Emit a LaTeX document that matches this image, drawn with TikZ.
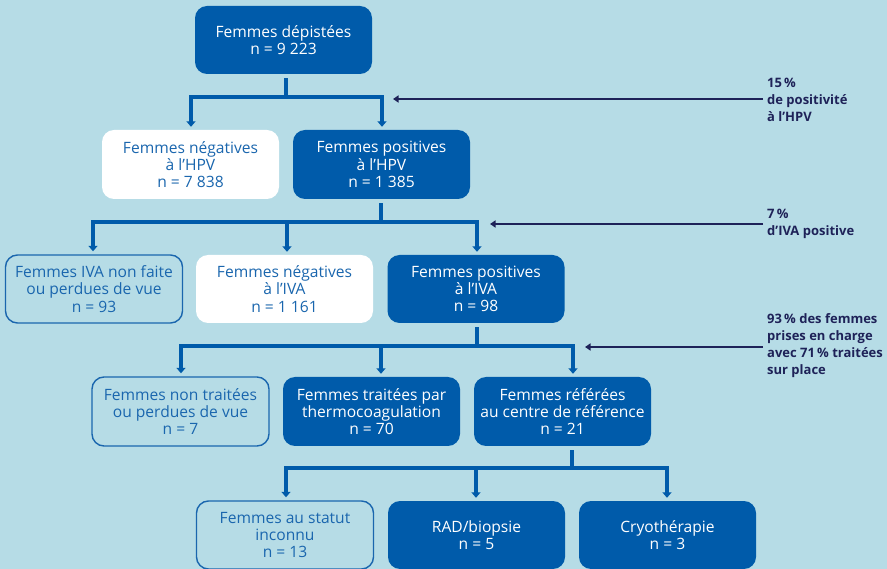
\documentclass[tikz,border=0pt]{standalone}
\usepackage{fontspec}
\setmainfont{Open Sans}
\usetikzlibrary{arrows.meta,calc}
\definecolor{bg}{HTML}{B6DCE6}
\definecolor{dblue}{HTML}{005BAA}
\definecolor{tblue}{HTML}{1A66AE}
\definecolor{navy}{HTML}{1E2258}
\tikzset{
  base/.style={rounded corners=12pt, minimum width=177pt, minimum height=68pt, align=center, inner sep=0pt, font=\fontsize{15.6}{17.2}\selectfont},
  darkbox/.style={base, fill=dblue, text=white},
  whitebox/.style={base, fill=white, text=tblue},
  outbox/.style={base, draw=tblue, line width=1.4pt, text=tblue},
  conn/.style={draw=dblue, line width=3.2pt},
  arr/.style={conn, -{Triangle[width=9pt,length=5.5pt]}},
  note/.style={anchor=west, align=left, text=navy, inner sep=0pt, font=\bfseries\fontsize{13}{17}\selectfont},
  notearr/.style={draw=navy, line width=2.2pt, -{Triangle[width=7pt,length=5.5pt]}}
}
\begin{document}
\begin{tikzpicture}[x=1pt,y=-1pt]
\fill[bg] (0,0) rectangle (887,569);
\useasboundingbox (0,0) rectangle (887,569);

% nodes
\node[darkbox] (top) at (283.5,40) {Femmes dépistées\\n = 9~223};
\node[whitebox, minimum height=69pt] (hpvneg) at (190.5,164.5) {Femmes négatives\\à l’HPV\\n = 7~838};
\node[darkbox, minimum height=69pt] (hpvpos) at (381.5,164.5) {Femmes positives\\à l’HPV\\n = 1~385};

\node[outbox] (ivanf) at (94,289) {Femmes IVA non faite\\ou perdues de vue\\n = 93};
\node[whitebox] (ivaneg) at (284.5,289) {Femmes négatives\\à l’IVA\\n = 1~161};
\node[darkbox] (ivapos) at (476,289) {Femmes positives\\à l’IVA\\n = 98};

\node[outbox, minimum height=69pt] (nontr) at (180.5,411.5) {Femmes non traitées\\ou perdues de vue\\n = 7};
\node[darkbox, minimum height=69pt] (thermo) at (371.5,411.5) {Femmes traitées par\\thermocoagulation\\n = 70};
\node[darkbox, minimum height=69pt] (ref) at (562.5,411.5) {Femmes référées\\au centre de référence\\n = 21};

\node[outbox] (inc) at (285,535) {Femmes au statut\\inconnu\\n = 13};
\node[darkbox] (rad) at (476.5,535) {RAD/biopsie\\n = 5};
\node[darkbox] (cryo) at (667.5,535) {Cryothérapie\\n = 3};

% connectors level 1
\coordinate (b1) at (286,97);
\draw[conn] ($(top.south)+(2.5,4)$) -- (b1);
\draw[arr] (b1) -| ($(hpvneg.north)+(0.5,-3)$);
\draw[arr] (b1) -| ($(hpvpos.north)+(0.5,-3)$);

% level 2
\coordinate (b2) at (381,222);
\draw[conn] ($(hpvpos.south)+(-0.5,4)$) -- (b2);
\draw[arr] (b2) -| ($(ivanf.north)+(-1,-3)$);
\draw[arr] (b2) -| ($(ivaneg.north)+(2.5,-3)$);
\draw[arr] (b2) -| ($(ivapos.north)+(1,-3)$);

% level 3
\coordinate (b3) at (477,346);
\draw[conn] ($(ivapos.south)+(1,4)$) -- (b3);
\draw[arr] (b3) -| ($(nontr.north)+(0.5,-3)$);
\draw[arr] (b3) -| ($(thermo.north)+(9.5,-3)$);
\draw[arr] (b3) -| ($(ref.north)+(10.5,-3)$);

% level 4
\coordinate (b4) at (572,468);
\draw[conn] ($(ref.south)+(9.5,4)$) -- (b4);
\draw[arr] (b4) -| ($(inc.north)+(1,-3)$);
\draw[arr] (b4) -| ($(rad.north)+(-0.5,-3)$);
\draw[arr] (b4) -| ($(cryo.north)+(-0.5,-3)$);

% notes
\node[note] (n1) at (767,100) {15\,\%\\de positivité\\à l’HPV};
\node[note] (n2) at (767,223.5) {7\,\%\\d’IVA positive};
\node[note] (n3) at (767,346) {93\,\% des femmes\\prises en charge\\avec 71\,\% traitées\\sur place};
\coordinate (t1) at (393,99);
\coordinate (t2) at (490,224);
\coordinate (t3) at (585,347);
\draw[notearr] (n1.west |- t1) ++(-4,0) -- (t1);
\draw[notearr] (n2.west |- t2) ++(-4,0) -- (t2);
\draw[notearr] (n3.west |- t3) ++(-4,0) -- (t3);
\end{tikzpicture}
\end{document}
